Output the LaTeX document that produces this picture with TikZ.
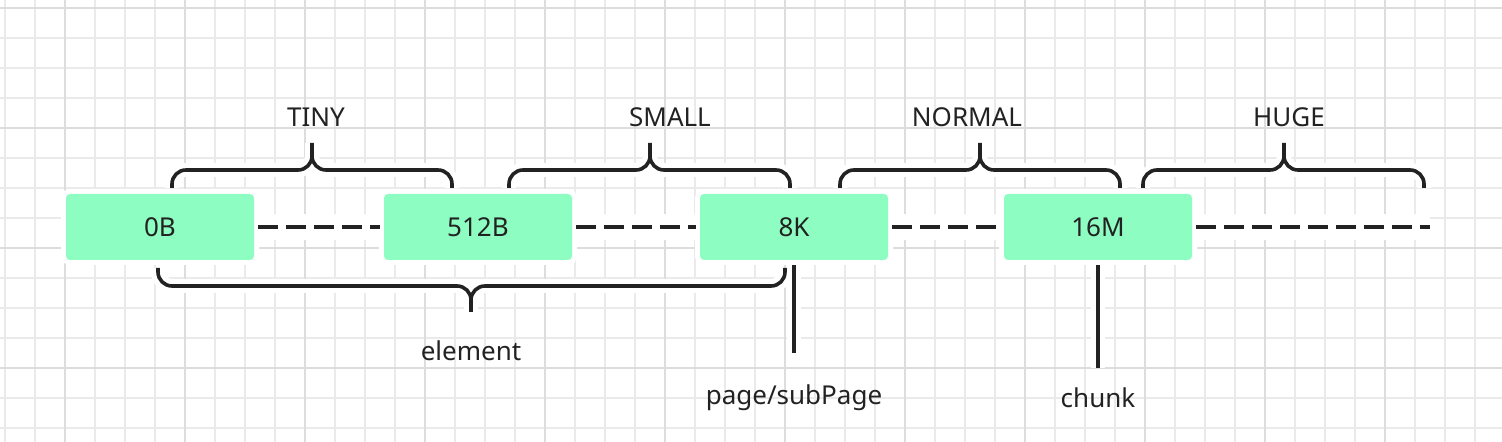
\documentclass[tikz,border=0pt]{standalone}
\usepackage{fontspec}
\setmainfont{Noto Sans}
\usetikzlibrary{positioning}
\definecolor{mint}{HTML}{8DFDC1}
\definecolor{ink}{HTML}{222222}
\definecolor{gridlight}{HTML}{EAEAEA}
\definecolor{gridheavy}{HTML}{DDDDDD}

\begin{document}
\begin{tikzpicture}[x=0.5pt, y=-0.5pt,
    size node/.style={rectangle, fill=mint, rounded corners=2pt, minimum width=94pt, minimum height=33pt, inner sep=0pt, text=ink, preaction={draw=white, line width=5pt}},
    gap/.style={draw=ink, line width=2pt, dash pattern=on 10pt off 4pt, shorten <=2pt, shorten >=2pt, preaction={draw=white, line width=13pt, solid}},
    brace/.style={draw=ink, line width=1.8pt, rounded corners=7pt, preaction={draw=white, line width=7pt}},
    stem/.style={draw=ink, line width=2pt, shorten <=2.5pt, preaction={draw=white, line width=7pt}}]
    \tikzstyle{every node}=[font=\fontsize{13}{15}\selectfont, text=ink]

    % paper
    \fill[white] (0,0) rectangle (1502,442);
    \useasboundingbox (0,0) rectangle (1502,442);
    \foreach \x in {5,35,...,1495} \draw[gridlight, line width=0.6pt] (\x,0) -- (\x,442);
    \foreach \y in {8,38,...,440} \draw[gridlight, line width=0.6pt] (0,\y) -- (1502,\y);
    \foreach \x in {65,185,...,1495} \draw[gridheavy, line width=1pt] (\x,0) -- (\x,442);
    \foreach \y in {8,128,...,440} \draw[gridheavy, line width=1pt] (0,\y) -- (1502,\y);

    % size classes
    \foreach \a/\m/\b/\lx/\t in {172/312/452/316/TINY, 509/650/790/670/SMALL, 840/980/1120/967/NORMAL, 1143/1284/1424/1289/HUGE} {
      \draw[brace] (\a,188) -- (\a,170) -- (\m,170) -- (\m,143)
                   (\m,143) -- (\m,170) -- (\b,170) -- (\b,188);
      \node (\t) at (\lx,117) {\t};
    }
    \draw[brace] (158,268) -- (158,286) -- (471,286) -- (471,312)
                 (471,312) -- (471,286) -- (785,286) -- (785,268);
    \node (element) at (471,351) {element};

    % boundaries
    \node[size node] (zero) at (160,227) {0B};
    \node[size node] (five) at (478,227) {512B};
    \node[size node] (eight) at (794,227) {8K};
    \node[size node] (sixteen) at (1098,227) {16M};
    \coordinate (tail) at (1430,227);

    \path (zero) edge[gap] (five)
          (five) edge[gap] (eight)
          (eight) edge[gap] (sixteen)
          (sixteen) edge[gap, shorten >=0pt] (tail);

    \node (page) at (794,398) {page/subPage};
    \node (chunk) at (1098,398) {chunk};
    \coordinate (pagefoot) at (794,353);
    \coordinate (chunkfoot) at (1098,368);
    \draw[stem] (eight) -- (pagefoot);
    \draw[stem] (sixteen) -- (chunkfoot);

\end{tikzpicture}
\end{document}
